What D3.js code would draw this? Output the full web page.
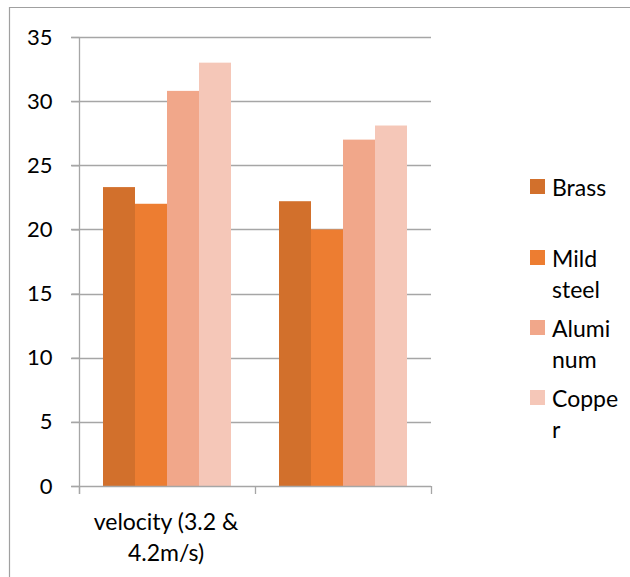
<!DOCTYPE html>
<html>
<head>
<meta charset="utf-8">
<script src="https://cdn.jsdelivr.net/npm/d3@7"></script>
<style>
  html, body { margin: 0; padding: 0; background: #fff; }
  svg { display: block; font-family: Lato, "Open Sans", sans-serif; }
</style>
</head>
<body>
<svg id="chart" width="630" height="577"></svg>
<script>
// ---- data ----
const categories = ["velocity (3.2 & 4.2m/s)", ""];
const categoryLabelLines = [["velocity (3.2 &", "4.2m/s)"], []];
const series = ["Brass", "Mild steel", "Aluminum", "Copper"];
const legendLines = [["Brass"], ["Mild", "steel"], ["Alumi", "num"], ["Coppe", "r"]];
const brass = [23.3, 22.2];
const mildSteel = [22.0, 20.0];
const aluminum = [30.8, 27.0];
const copper = [33.0, 28.1];
const yTicks = [0, 5, 10, 15, 20, 25, 30, 35];
const colors = ["#D2702C", "#ED7D31", "#F1A78A", "#F5C7B8"];

const values = [brass, mildSteel, aluminum, copper];

const svg = d3.select("#chart");
const gridColor = "#A6A6A6";
const fontSize = 23;

// outer frame (only top and left visible)
svg.append("line").attr("x1", 9).attr("x2", 630).attr("y1", 7.5).attr("y2", 7.5)
  .attr("stroke", "#A0A0A0").attr("stroke-width", 1.2);
svg.append("line").attr("x1", 9.5).attr("x2", 9.5).attr("y1", 7).attr("y2", 577)
  .attr("stroke", "#A0A0A0").attr("stroke-width", 1.2);

const y = d3.scaleLinear().domain([0, 35]).range([486, 37]);
const x0 = d3.scaleBand().domain(categories).range([79, 431]).paddingInner(0).paddingOuter(0);
const x1 = d3.scaleBand().domain(series).range([0, x0.bandwidth()]).paddingInner(0).paddingOuter(0.75);
const color = d3.scaleOrdinal().domain(series).range(colors);

// gridlines
svg.append("g").selectAll("line").data(yTicks.filter(d => d > 0)).join("line")
  .attr("x1", 71).attr("x2", 431)
  .attr("y1", d => Math.round(y(d)) + 0.5).attr("y2", d => Math.round(y(d)) + 0.5)
  .attr("stroke", gridColor).attr("stroke-width", 1.3);

// bars
const groups = svg.append("g").selectAll("g").data(categories).join("g")
  .attr("transform", d => `translate(${x0(d)},0)`);
groups.selectAll("rect")
  .data((c, ci) => series.map((s, si) => ({ s, v: values[si][ci] })))
  .join("rect")
  .attr("x", d => x1(d.s))
  .attr("width", x1.bandwidth())
  .attr("y", d => y(d.v))
  .attr("height", d => y(0) - y(d.v))
  .attr("fill", d => color(d.s));

// y axis
const yAxis = d3.axisLeft(y).tickValues(yTicks).tickSize(8).tickPadding(19);
const gy = svg.append("g").attr("transform", "translate(79.5,0)").call(yAxis);
gy.select(".domain").remove();
gy.selectAll(".tick line").attr("stroke", gridColor).attr("stroke-width", 1.3);
gy.selectAll(".tick text").attr("font-size", 22).attr("fill", "#000")
  .attr("font-family", "Lato, sans-serif");
svg.append("line").attr("x1", 79.5).attr("x2", 79.5).attr("y1", y(35)).attr("y2", 494)
  .attr("stroke", gridColor).attr("stroke-width", 1.3);

// x axis
svg.append("line").attr("x1", 71).attr("x2", 431).attr("y1", Math.round(y(0)) + 0.5).attr("y2", Math.round(y(0)) + 0.5)
  .attr("stroke", gridColor).attr("stroke-width", 1.3);
const xTickPos = categories.map(c => x0(c)).concat([x0(categories[categories.length - 1]) + x0.bandwidth()]);
svg.append("g").selectAll("line").data(xTickPos).join("line")
  .attr("x1", d => Math.round(d) + 0.5).attr("x2", d => Math.round(d) + 0.5)
  .attr("y1", y(0)).attr("y2", 494)
  .attr("stroke", gridColor).attr("stroke-width", 1.3);

// category labels
categories.forEach((c, ci) => {
  const t = svg.append("text").attr("text-anchor", "middle").attr("font-size", fontSize).attr("fill", "#000");
  categoryLabelLines[ci].forEach((ln, li) => {
    t.append("tspan").attr("x", x0(c) + x0.bandwidth() / 2 - 1).attr("y", 530 + li * 31).text(ln);
  });
});

// legend
const legendTops = [179, 250, 320, 390];
series.forEach((s, si) => {
  const g = svg.append("g");
  g.append("rect").attr("x", 530).attr("y", legendTops[si]).attr("width", 15).attr("height", 15)
    .attr("fill", color(s));
  const t = g.append("text").attr("font-size", fontSize).attr("fill", "#000");
  legendLines[si].forEach((ln, li) => {
    t.append("tspan").attr("x", 552).attr("y", legendTops[si] + 17 + li * 31).text(ln);
  });
});
</script>
</body>
</html>
